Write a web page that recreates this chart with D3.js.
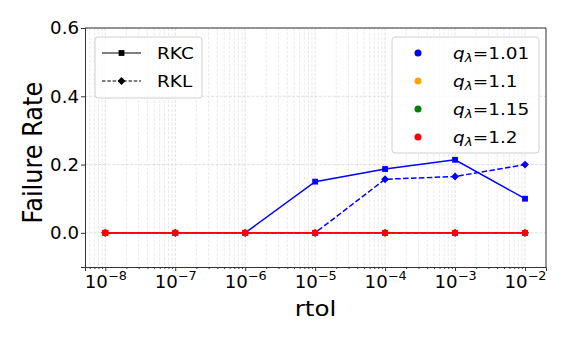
<!DOCTYPE html>
<html>
<head>
<meta charset="utf-8">
<script src="https://cdn.jsdelivr.net/npm/d3@7"></script>
<style>
  body { margin: 0; background: #fff; }
  text { font-family: "DejaVu Sans", sans-serif; }
</style>
</head>
<body>
<div class="chart"></div>
<script>
// failure rate vs rtol, RKC / RKL for several q_lambda

var rtol = [1e-8, 1e-7, 1e-6, 1e-5, 1e-4, 1e-3, 1e-2];
var qLabels = ["1.01", "1.1", "1.15", "1.2"];
var qColors = ["#0000ff", "#ffa500", "#008000", "#ff0000"];
var rkc = [
  [0, 0, 0, 0.15, 0.187, 0.214, 0.10],
  [0, 0, 0, 0, 0, 0, 0],
  [0, 0, 0, 0, 0, 0, 0],
  [0, 0, 0, 0, 0, 0, 0]
];
var rkl = [
  [0, 0, 0, 0, 0.157, 0.165, 0.20],
  [0, 0, 0, 0, 0, 0, 0],
  [0, 0, 0, 0, 0, 0, 0],
  [0, 0, 0, 0, 0, 0, 0]
];
var yTicks = [0.0, 0.2, 0.4, 0.6];
var methods = ["RKC", "RKL"];

var W = 571, H = 343;
var margin = {top: 28, right: 25, bottom: 76, left: 85};
var width = W - margin.left - margin.right,
    height = H - margin.top - margin.bottom;
var sx = 1.12;  // the original figure is a bit wider than tall, text too
var sxt = 1.07; // tick labels

var svg = d3.select(".chart").append("svg")
  .attr("width", W)
  .attr("height", H);

var g = svg.append("g")
  .attr("transform", "translate(" + margin.left + "," + margin.top + ")");

var x = d3.scaleLog()
  .domain([Math.pow(10, -8.29), Math.pow(10, -1.7)])
  .range([0, width]);
var y = d3.scaleLinear()
  .domain([-0.1, 0.6])
  .range([height, 0]);

// minor log positions
var minor = [];
for (var e = -9; e <= -2; e++) {
  for (var m = 2; m <= 9; m++) {
    var v = m * Math.pow(10, e);
    if (v >= x.domain()[0] && v <= x.domain()[1]) minor.push(v);
  }
}

// grid
var grid = g.append("g");
grid.selectAll(".vminor").data(minor).enter().append("line")
  .attr("x1", function(d) { return x(d); })
  .attr("x2", function(d) { return x(d); })
  .attr("y1", 0).attr("y2", height)
  .attr("stroke", "#e4e4e4")
  .attr("stroke-width", 0.8)
  .attr("stroke-dasharray", "3,1.5");
grid.selectAll(".vmajor").data(rtol).enter().append("line")
  .attr("x1", function(d) { return x(d); })
  .attr("x2", function(d) { return x(d); })
  .attr("y1", 0).attr("y2", height)
  .attr("stroke", "#d8d8d8")
  .attr("stroke-width", 0.8)
  .attr("stroke-dasharray", "3,1.5");
grid.selectAll(".hmajor").data(yTicks).enter().append("line")
  .attr("x1", 0).attr("x2", width)
  .attr("y1", function(d) { return y(d); })
  .attr("y2", function(d) { return y(d); })
  .attr("stroke", "#d8d8d8")
  .attr("stroke-width", 0.8)
  .attr("stroke-dasharray", "3,1.5");

// axes
var xAxis = g.append("g")
  .attr("transform", "translate(0," + height + ")")
  .call(d3.axisBottom(x).tickValues(rtol).tickSize(4).tickFormat(""));
g.append("g")
  .attr("transform", "translate(0," + height + ")")
  .call(d3.axisBottom(x).tickValues(minor).tickSize(2).tickFormat(""))
  .select(".domain").remove();

var yAxis = g.append("g")
  .call(d3.axisLeft(y).tickValues(yTicks).tickSize(4)
    .tickFormat(d3.format(".1f")));
yAxis.selectAll("text")
  .attr("font-size", 17).attr("fill", "#000")
  .attr("x", 0).attr("dy", "0.35em")
  .attr("transform", "translate(-6,0) scale(" + sxt + ",1)");

g.selectAll(".domain").attr("stroke", "#333");
g.selectAll(".tick line").attr("stroke", "#333");

// x tick labels 10^n
xAxis.selectAll(".tick").each(function(d) {
  var t = d3.select(this).append("text")
    .attr("y", 21)
    .attr("fill", "#000")
    .attr("text-anchor", "middle")
    .attr("font-size", 17)
    .attr("transform", "scale(" + sxt + ",1)");
  t.append("tspan").text("10");
  t.append("tspan").attr("dy", -7.5).attr("font-size", 12)
    .text("\u2212" + Math.round(-Math.log10(d)));
});

// top and right spines
g.append("line").attr("x1", 0).attr("x2", width).attr("y1", 0).attr("y2", 0)
  .attr("stroke", "#333");
g.append("line").attr("x1", width).attr("x2", width).attr("y1", 0).attr("y2", height)
  .attr("stroke", "#333");

// labels
svg.append("text")
  .attr("transform", "translate(" + (margin.left + width / 2) + ",316) scale(" + sx + ",1)")
  .attr("text-anchor", "middle")
  .attr("font-size", 22)
  .text("rtol");
svg.append("text")
  .attr("transform", "translate(42," + (margin.top + y(0.235)) + ") rotate(-90) scale(1," + sx + ")")
  .attr("text-anchor", "middle")
  .attr("font-size", 24)
  .text("Failure Rate");

// series
var line = d3.line()
  .x(function(d, i) { return x(rtol[i]); })
  .y(function(d) { return y(d); });
var square = d3.symbol().type(d3.symbolSquare).size(34);
var diamond = "M0,-3.9L3.9,0L0,3.9L-3.9,0Z";

var plot = g.append("g");
qLabels.forEach(function(q, k) {
  plot.append("path")
    .attr("d", line(rkc[k]))
    .attr("fill", "none")
    .attr("stroke", qColors[k])
    .attr("stroke-width", 1.5);
  plot.selectAll(null).data(rkc[k]).enter().append("path")
    .attr("d", square)
    .attr("transform", function(d, i) { return "translate(" + x(rtol[i]) + "," + y(d) + ")"; })
    .attr("fill", qColors[k]);
  plot.append("path")
    .attr("d", line(rkl[k]))
    .attr("fill", "none")
    .attr("stroke", qColors[k])
    .attr("stroke-width", 1.5)
    .attr("stroke-dasharray", "5.5,2.4");
  plot.selectAll(null).data(rkl[k]).enter().append("path")
    .attr("d", diamond)
    .attr("transform", function(d, i) { return "translate(" + x(rtol[i]) + "," + y(d) + ")"; })
    .attr("fill", qColors[k]);
});

// legend: methods
var leg1 = svg.append("g").attr("transform", "translate(95,37)");
leg1.append("rect")
  .attr("width", 107).attr("height", 61)
  .attr("rx", 3)
  .attr("fill", "#fff").attr("fill-opacity", 0.8)
  .attr("stroke", "#d0d0d0");
methods.forEach(function(mname, i) {
  var row = leg1.append("g").attr("transform", "translate(0," + (16 + i * 28) + ")");
  row.append("line")
    .attr("x1", 7).attr("x2", 46)
    .attr("stroke", "#000").attr("stroke-width", 1.2)
    .attr("stroke-dasharray", i ? "3.5,1.8" : null);
  row.append("path")
    .attr("d", i ? diamond : square)
    .attr("transform", "translate(26.5,0)")
    .attr("fill", "#000");
  row.append("text")
    .attr("transform", "translate(62,0) scale(" + sx + ",1)")
    .attr("dy", "0.35em")
    .attr("font-size", 16.5)
    .text(mname);
});

// legend: q lambda
var leg2 = svg.append("g").attr("transform", "translate(392,37)");
leg2.append("rect")
  .attr("width", 147).attr("height", 116)
  .attr("rx", 3)
  .attr("fill", "#fff").attr("fill-opacity", 0.8)
  .attr("stroke", "#d0d0d0");
qLabels.forEach(function(q, i) {
  var row = leg2.append("g").attr("transform", "translate(0," + (16 + i * 28) + ")");
  row.append("circle")
    .attr("cx", 26).attr("r", 3.5)
    .attr("fill", qColors[i]);
  var t = row.append("text")
    .attr("transform", "translate(61,0) scale(" + sx + ",1)")
    .attr("dy", "0.35em")
    .attr("font-size", 16.5);
  t.append("tspan").attr("font-style", "italic").text("q");
  t.append("tspan").attr("font-style", "italic").attr("font-size", 12)
    .attr("dy", 3).text("\u03bb");
  t.append("tspan").attr("dy", -3).text("=" + q);
});
</script>
</body>
</html>
